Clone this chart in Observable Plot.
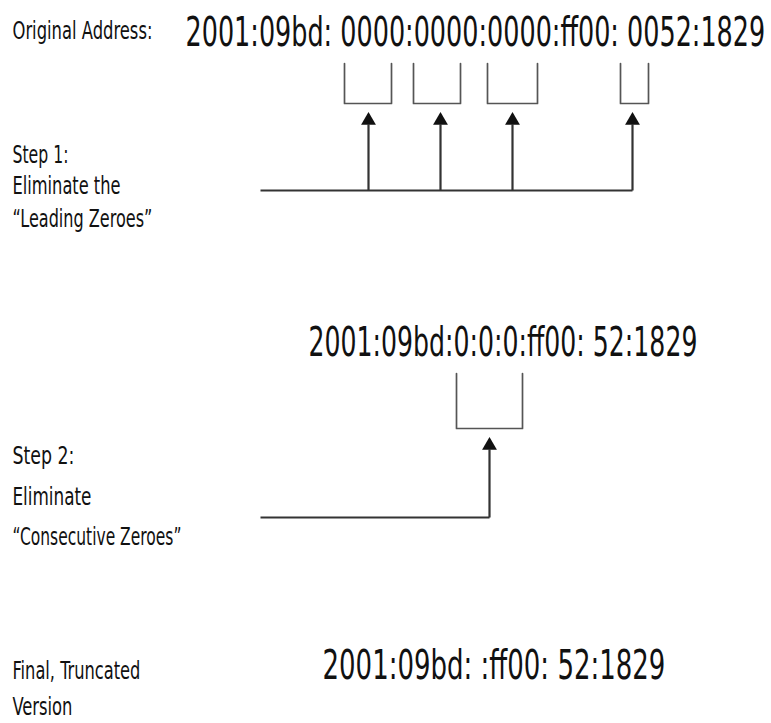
<!DOCTYPE html>
<html><head><meta charset="utf-8">
<script src="https://cdn.jsdelivr.net/npm/d3@7"></script>
<script src="https://cdn.jsdelivr.net/npm/@observablehq/plot@0.6"></script>
<style>
body{margin:0;background:#fff;}
svg text{font-family:"DejaVu Sans Condensed","Liberation Sans Narrow",sans-serif;}
</style>
</head><body><div id="chart"></div>
<script>
// Address strings
const addresses = ["2001:09bd: 0000:0000:0000:ff00: 0052:1829", "2001:09bd:0:0:0:ff00: 52:1829", "2001:09bd: :ff00: 52:1829"];
const addressX = [185, 308, 322];
const addressY = [32, 342, 665];
const addressW = [580, 389, 343];

// Side labels
const labels = ["Original Address:", "Step 1:", "Eliminate the", "\u201cLeading Zeroes\u201d", "Step 2:", "Eliminate", "\u201cConsecutive Zeroes\u201d", "Final, Truncated", "Version"];
const labelY = [30, 154, 185, 218, 455, 496, 536, 670, 706];
const labelW = [140, 56, 108, 140, 62, 79, 169, 128, 60];

// Brackets under zero groups
const bracketL = [344, 413, 487, 620, 456];
const bracketR = [391, 460, 537, 648, 522];
const bracketTop = [63, 63, 63, 63, 373];
const bracketBot = [103, 103, 103, 103, 428];

// Arrows
const arrowX = [368, 440, 512, 632, 489];
const arrowBase = [190, 190, 190, 190, 517];
const arrowTip = [112, 112, 112, 112, 437];
const connectorStart = [260, 260];
const connectorEnd = [632, 489];
const connectorY = [190, 517];

const bracketPts = bracketL.flatMap((l, i) => [
  {b: i, x: l, y: bracketTop[i]},
  {b: i, x: l, y: bracketBot[i]},
  {b: i, x: bracketR[i], y: bracketBot[i]},
  {b: i, x: bracketR[i], y: bracketTop[i]}
]);
const arrows = arrowX.map((x, i) => ({x, y1: arrowBase[i], y2: arrowTip[i] + 12, tip: arrowTip[i] + 8}));
const connectors = connectorStart.map((s, i) => ({x1: s, x2: connectorEnd[i], y: connectorY[i]}));
const addrData = addresses.map((t, i) => ({t, x: addressX[i], y: addressY[i], w: addressW[i]}));
const labelData = labels.map((t, i) => ({t, x: 12, y: labelY[i], w: labelW[i]}));

const plot = Plot.plot({
  width: 771, height: 723, margin: 0,
  x: {domain: [0, 771], range: [0, 771], axis: null},
  y: {domain: [0, 723], range: [0, 723], axis: null},
  marks: [
    Plot.line(bracketPts, {x: "x", y: "y", z: "b", stroke: "#555", strokeWidth: 1.7}),
    Plot.link(connectors, {x1: "x1", x2: "x2", y1: "y", y2: "y", stroke: "#333", strokeWidth: 2.2}),
    Plot.link(arrows, {x1: "x", x2: "x", y1: "y1", y2: "y2", stroke: "#333", strokeWidth: 2.2}),
    Plot.dot(arrows, {x: "x", y: "tip", symbol: "triangle", r: 5.5, fill: "#111", stroke: "none"}),
    Plot.text(addrData, {x: "x", y: "y", text: "t", textAnchor: "start", fontSize: 41, fill: "#111"}),
    Plot.text(labelData, {x: "x", y: "y", text: "t", textAnchor: "start", fontSize: 25, fill: "#111"})
  ]
});
document.getElementById("chart").appendChild(plot);
// fit text widths by horizontal scaling
const widthMap = new Map([...addrData, ...labelData].map(d => [d.t, d]));
plot.querySelectorAll("text").forEach(el => {
  const d = widthMap.get(el.textContent);
  if (!d) return;
  const natural = el.getComputedTextLength();
  const s = d.w / natural;
  const tr = el.getAttribute("transform");
  if (tr && !el.getAttribute("x")) {
    el.setAttribute("transform", tr + ` scale(${s},1)`);
  } else {
    const x = +(el.getAttribute("x") || 0);
    el.setAttribute("transform", (tr || "") + ` translate(${x},0) scale(${s},1) translate(${-x},0)`);
  }
});
</script></body></html>
